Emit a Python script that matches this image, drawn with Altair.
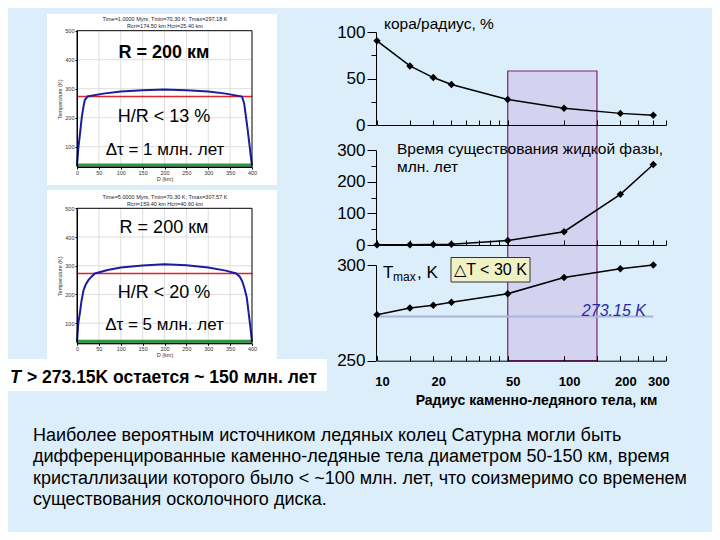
import altair as alt
import pandas as pd

# ---------------- data ----------------
radius_km = [10, 15, 20, 25, 50, 100, 200, 300]
crust_pct = [90.5, 63.5, 51, 43.5, 27.5, 18, 12.5, 10.5]
liquid_myr = [0.5, 1, 1.5, 2.5, 14, 42, 160, 254]
tmax_k = [274, 277.5, 279, 280.5, 285, 293.5, 298, 300]

x_tick_values = [10, 15, 20, 25, 30, 35, 40, 45, 50, 100, 150, 200, 250, 300, 350]
x_label_values = [10, 20, 50, 100, 200, 300]
highlight_range = [50, 150]
melt_T = 273.15

prof1_km = [0, 3, 7, 11, 15, 18, 24, 60, 100, 150, 200, 250, 300, 340, 377, 382, 386, 390, 394, 397, 400]
prof1_T = [35, 95, 147, 202, 240, 261, 273, 283, 290, 295, 297, 295, 290, 283, 273, 250, 205, 160, 110, 70, 35]
prof2_km = [0, 3, 7, 10, 15, 20, 26, 33, 41, 70, 100, 150, 200, 250, 300, 340, 364, 372, 378, 383, 388, 392, 396, 400]
prof2_T = [35, 100, 140, 175, 215, 235, 250, 262, 273, 285, 294, 301, 305, 302, 294, 283, 273, 262, 245, 220, 190, 140, 90, 35]
surface_T = 37
profile_x_ticks = [0, 50, 100, 150, 200, 250, 300, 350, 400]
profile_T_ticks = [100, 200, 300, 400, 500]

para_lines = [
    "Наиболее вероятным источником ледяных колец Сатурна могли быть",
    "дифференцированные каменно-ледяные тела диаметром 50-150 км, время",
    "кристаллизации которого было < ~100 млн. лет, что соизмеримо со временем",
    "существования осколочного диска.",
]

# ---------------- layout ----------------
W, H = 704, 524
BG = "#dceefa"
FONT = "Liberation Sans"
one = pd.DataFrame({"k": [0]})
df_r = pd.DataFrame({"r": radius_km, "crust": crust_pct, "liquid": liquid_myr, "tmax": tmax_k})

xs_r = alt.Scale(type="log", domain=[10, 350], range=[369, 657.8], nice=False)
ysA = alt.Scale(domain=[0, 100], range=[117, 24], nice=False, zero=False)
ysB = alt.Scale(domain=[0, 300], range=[237, 142], nice=False, zero=False)
ysC = alt.Scale(domain=[250, 300], range=[352.7, 257], nice=False, zero=False)


def xtop(ypix):
    return alt.Axis(orient="top", offset=-ypix, values=x_tick_values, labels=False,
                    tickSize=5, tickColor="black", domainColor="black", grid=False,
                    title=None, zindex=1)


def yleft(values, labels=True, size=9, domain=True):
    return alt.Axis(orient="left", offset=-368, values=values, labels=labels, tickSize=size,
                    labelFontSize=17, labelFont=FONT, labelColor="black", labelPadding=2,
                    domain=domain, domainColor="black", tickColor="black", grid=False,
                    title=None, zindex=1, labelFlush=False, labelOverlap=False)


def text_layer(txt, x, y, size, weight="normal", style="normal", color="black",
               align="center", font=FONT, baseline="middle"):
    return alt.Chart(one).mark_text(text=txt, fontSize=size, fontWeight=weight, fontStyle=style,
                                    color=color, align=align, baseline=baseline, font=font
                                    ).encode(x=alt.value(x), y=alt.value(y))


def box(x0, x1, y0, y1, fill="white", stroke=None):
    kw = dict(fill=fill)
    if stroke:
        kw.update(stroke=stroke, strokeWidth=1)
    return alt.Chart(one).mark_rect(**kw).encode(
        x=alt.value(x0), x2=alt.value(x1), y=alt.value(y0), y2=alt.value(y1))


layers = []

# white panels on the left
layers.append(box(39, 269, 6, 177))
layers.append(box(39, 269, 182, 352))
layers.append(box(-3, 319, 351, 383))


def profile_plot(km, T, ytop, ybot, title1, title2):
    xs = alt.Scale(domain=[0, 400], range=[69, 244], nice=False, zero=False)
    ys = alt.Scale(domain=[30, 500], range=[ybot, ytop], nice=False, zero=False)
    out = []
    gx = pd.DataFrame({"g": profile_x_ticks[1:-1]})
    out.append(alt.Chart(gx).mark_rule(color="#d6d6d6", strokeWidth=0.8).encode(
        x=alt.X("g:Q", scale=xs, axis=None),
        y=alt.YDatum(30, scale=ys, axis=None), y2=alt.Y2Datum(500)))
    gy = pd.DataFrame({"g": profile_T_ticks[:-1]})
    out.append(alt.Chart(gy).mark_rule(color="#d6d6d6", strokeWidth=0.8).encode(
        y=alt.Y("g:Q", scale=ys, axis=None),
        x=alt.XDatum(0, scale=xs, axis=None), x2=alt.X2Datum(400)))
    out.append(alt.Chart(one).mark_rule(color="#2a9a3a", strokeWidth=3).encode(
        y=alt.YDatum(surface_T, scale=ys, axis=None),
        x=alt.XDatum(0, scale=xs, axis=None), x2=alt.X2Datum(400)))
    out.append(alt.Chart(one).mark_rule(color="#e4202a", strokeWidth=1.5).encode(
        y=alt.YDatum(melt_T, scale=ys, axis=None),
        x=alt.XDatum(0, scale=xs, axis=None), x2=alt.X2Datum(400)))
    dfp = pd.DataFrame({"km": km, "T": T})
    out.append(alt.Chart(dfp).mark_line(color="#1c1c9c", strokeWidth=2).encode(
        x=alt.X("km:Q", scale=xs, axis=alt.Axis(
            orient="bottom", offset=ybot - H, values=profile_x_ticks, labelFontSize=5.5,
            labelColor="#333", labelFont=FONT, tickSize=2, tickColor="black",
            domainColor="black", title="D (km)", titleFontSize=5.5, titleFontWeight="normal",
            titleColor="#333", titlePadding=1, labelPadding=1, grid=False, zindex=1,
            labelFlush=False, labelOverlap=False)),
        y=alt.Y("T:Q", scale=ys, axis=alt.Axis(
            orient="left", offset=-69, values=profile_T_ticks, labelFontSize=5.5,
            labelColor="#333", labelFont=FONT, tickSize=2, tickColor="black",
            domainColor="black", title="Temperature (K)", titleFontSize=5.5,
            titleFontWeight="normal", titleColor="#333", titlePadding=2, labelPadding=1,
            grid=False, zindex=1, labelFlush=False, labelOverlap=False)),
        order=alt.Order("km:Q")))
    out.append(alt.Chart(one).mark_rect(fillOpacity=0, stroke="black", strokeWidth=1).encode(
        x=alt.XDatum(0, scale=xs, axis=None), x2=alt.X2Datum(400),
        y=alt.YDatum(30, scale=ys, axis=None), y2=alt.Y2Datum(500)))
    out.append(text_layer(title1, 157, ytop - 11.5, 5.5, color="#222"))
    out.append(text_layer(title2, 157, ytop - 4.5, 5.5, color="#222"))
    return out


layers += profile_plot(prof1_km, prof1_T, 22.7, 159,
                       "Time=1.0000 Myrs; Tmin=70.30 K; Tmax=297.18 K",
                       "Rcri=174.50 km     Hcri=25.40 km")
layers += profile_plot(prof2_km, prof2_T, 200.3, 335.3,
                       "Time=5.0000 Myrs; Tmin=70.30 K; Tmax=307.57 K",
                       "Rcri=159.40 km     Hcri=40.60 km")

layers.append(text_layer("R = 200 км", 156, 45, 18, weight="bold"))
layers.append(text_layer("H/R < 13 %", 156, 109, 18))
layers.append(text_layer("Δτ = 1 млн. лет", 157, 142, 17))
layers.append(text_layer("R = 200 км", 156, 220, 18))
layers.append(text_layer("H/R < 20 %", 156, 285, 18))
layers.append(text_layer("Δτ = 5 млн. лет", 156.5, 317, 17))
layers.append(text_layer("T", 2, 370, 18, weight="bold", style="italic", align="left"))
layers.append(text_layer("> 273.15K остается ~ 150 млн. лет", 19, 370, 17.5, weight="bold",
                         align="left"))

# highlight band 50-150 km
layers.append(alt.Chart(one).mark_rect(fill="#d3d2ef", stroke="#7a2470", strokeWidth=1.2).encode(
    x=alt.XDatum(highlight_range[0], scale=xs_r, axis=None), x2=alt.X2Datum(highlight_range[1]),
    y=alt.value(63), y2=alt.value(352.7)))

# 273.15 K line
layers.append(alt.Chart(one).mark_rule(color="#a9b6da", strokeWidth=2).encode(
    x=alt.XDatum(10, scale=xs_r, axis=None), x2=alt.X2Datum(300),
    y=alt.YDatum(melt_T, scale=ysC, axis=None)))
layers.append(alt.Chart(one).mark_text(text="273.15 K", fontSize=16, fontStyle="italic",
                                       color="#2b2ba5", align="right", baseline="alphabetic",
                                       font=FONT).encode(
    x=alt.XDatum(274, scale=xs_r, axis=None),
    y=alt.YDatum(melt_T, scale=ysC, axis=None)))

point_def = alt.OverlayMarkDef(shape="diamond", filled=True, size=55, color="black")

# panel A: crust / radius
layers.append(alt.Chart(df_r).mark_line(color="black", strokeWidth=1.5, point=point_def).encode(
    x=alt.X("r:Q", scale=xs_r, axis=xtop(117)),
    y=alt.Y("crust:Q", scale=ysA, axis=yleft([0, 50, 100]))))
layers.append(alt.Chart(df_r).mark_point(opacity=0).encode(
    y=alt.Y("crust:Q", scale=ysA, axis=yleft([25, 75], labels=False, size=5, domain=False))))

# panel B: liquid phase lifetime
layers.append(alt.Chart(df_r).mark_line(color="black", strokeWidth=1.5, point=point_def).encode(
    x=alt.X("r:Q", scale=xs_r, axis=xtop(237)),
    y=alt.Y("liquid:Q", scale=ysB, axis=yleft([0, 100, 200, 300]))))
layers.append(alt.Chart(df_r).mark_point(opacity=0).encode(
    y=alt.Y("liquid:Q", scale=ysB, axis=yleft([50, 150, 250], labels=False, size=5, domain=False))))

# panel C: Tmax
layers.append(alt.Chart(df_r).mark_line(color="black", strokeWidth=1.5, point=point_def).encode(
    x=alt.X("r:Q", scale=xs_r, axis=xtop(352.7)),
    y=alt.Y("tmax:Q", scale=ysC, axis=yleft([250, 300]))))
layers.append(alt.Chart(df_r).mark_point(opacity=0).encode(
    x=alt.X("r:Q", scale=xs_r, axis=alt.Axis(
        orient="bottom", offset=352.7 - H, values=x_label_values, ticks=False, domain=False,
        labelFontSize=13, labelFontWeight="bold", labelFont=FONT, labelColor="black",
        labelPadding=15, labelOffset=5, labelFlush=False, labelOverlap=False, grid=False,
        title="Радиус каменно-ледяного тела, км", titleFontSize=14, titleFontWeight="bold",
        titleFont=FONT, titleColor="black", titlePadding=5, titleX=528, zindex=1))))

# panel titles
layers.append(text_layer("кора/радиус, %", 376, 16, 15.5, align="left"))
layers.append(text_layer("Время существования жидкой фазы,", 389, 140.5, 15.5, align="left"))
layers.append(text_layer("млн. лет", 389, 159, 15.5, align="left"))
layers.append(text_layer("T", 375, 265, 17, align="left"))
layers.append(text_layer("max", 385, 269, 12, align="left"))
layers.append(text_layer(", K", 409, 265, 17, align="left"))
layers.append(box(443, 522, 249.5, 274, fill="#f1f1c6", stroke="#333333"))
layers.append(text_layer("△T < 30 K", 482.5, 262, 16))

# paragraph
df_p = pd.DataFrame({"i": list(range(len(para_lines))), "line": para_lines})
layers.append(alt.Chart(df_p).mark_text(fontSize=18, font=FONT,
                                        align="left", baseline="middle", color="black").encode(
    x=alt.value(25),
    y=alt.Y("i:Q", scale=alt.Scale(domain=[0, 3], range=[428, 492]), axis=None),
    text="line:N"))

chart = alt.layer(*layers).resolve_scale(x="independent", y="independent").resolve_axis(
    x="independent", y="independent").properties(
    width=W, height=H, autosize="none", padding=0
).configure(background=BG).configure_view(stroke=None)

chart.save("out.html", embed_options={"renderer": "svg", "actions": False})
